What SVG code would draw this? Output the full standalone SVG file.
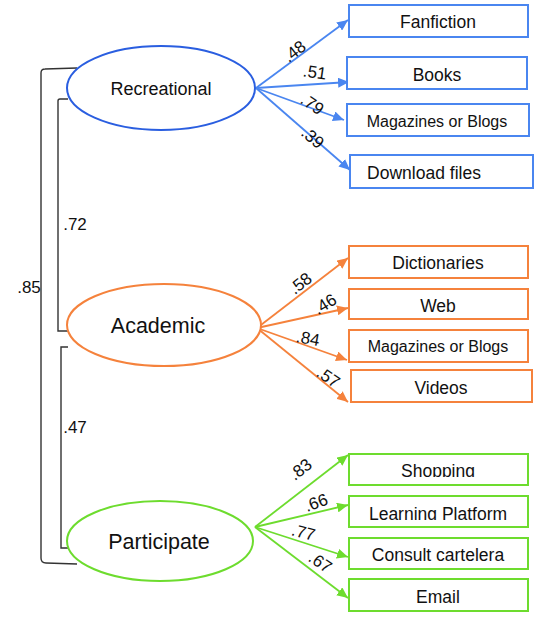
<svg xmlns="http://www.w3.org/2000/svg" width="541" height="623" viewBox="0 0 541 623">
<style>
text{font-family:"Liberation Sans",Arial,sans-serif;fill:#111}
.lv{font-size:18px;text-anchor:middle}
.lv2{font-size:21.5px;text-anchor:middle}
.bx{font-size:17.5px;text-anchor:middle}
.bxs{font-size:16px;text-anchor:middle}
.lab{font-size:17px;text-anchor:middle}
.br{fill:none;stroke:#333;stroke-width:1.4}
.b{stroke:#4a86f0;stroke-width:1.8;fill:none}
.o{stroke:#f5823c;stroke-width:1.8;fill:none}
.g{stroke:#6ddc2e;stroke-width:1.8;fill:none}
.rb{fill:#fff;stroke:#4a86f0;stroke-width:2}
.ro{fill:#fff;stroke:#f5823c;stroke-width:2}
.rg{fill:#fff;stroke:#6ddc2e;stroke-width:2}
</style>
<defs>
<marker id="ab" markerUnits="userSpaceOnUse" markerWidth="12" markerHeight="10" refX="11" refY="5" orient="auto"><path d="M0,0 L11,5 L0,10 z" fill="#4a86f0"/></marker>
<marker id="ao" markerUnits="userSpaceOnUse" markerWidth="12" markerHeight="10" refX="11" refY="5" orient="auto"><path d="M0,0 L11,5 L0,10 z" fill="#f5823c"/></marker>
<marker id="ag" markerUnits="userSpaceOnUse" markerWidth="12" markerHeight="10" refX="11" refY="5" orient="auto"><path d="M0,0 L11,5 L0,10 z" fill="#6ddc2e"/></marker>
<clipPath id="c1"><rect x="349" y="454" width="179" height="23"/></clipPath>
<clipPath id="c2"><rect x="349" y="496" width="179" height="24"/></clipPath>
</defs>
<rect width="541" height="623" fill="#fff"/>
<g id="connectors">
<path class="br" d="M77,68 L45,69 Q41,69 41,73 L41,558 Q41,563 46,563 L77,564"/>
<path class="br" d="M68,99 L60,99 Q58,99 58,101 L58,331 L68,331"/>
<path class="br" d="M68,347 L61,347 L61,548 L68,548"/>
<text class="lab" x="29" y="293">.85</text>
<text class="lab" x="75" y="230">.72</text>
<text class="lab" x="75" y="433">.47</text>
<line class="b" x1="256" y1="88" x2="348" y2="20" marker-end="url(#ab)"/>
<line class="b" x1="256" y1="88" x2="349" y2="82" marker-end="url(#ab)"/>
<line class="b" x1="256" y1="88" x2="344" y2="120" marker-end="url(#ab)"/>
<line class="b" x1="256" y1="88" x2="350" y2="170" marker-end="url(#ab)"/>
<text class="lab" transform="translate(298,56) rotate(-38)">.48</text>
<text class="lab" transform="translate(314,78) rotate(8)">.51</text>
<text class="lab" transform="translate(309,109) rotate(35)">.79</text>
<text class="lab" transform="translate(309,142) rotate(40)">.39</text>
<line class="o" x1="257" y1="328" x2="348" y2="258" marker-end="url(#ao)"/>
<line class="o" x1="257" y1="328" x2="348" y2="308" marker-end="url(#ao)"/>
<line class="o" x1="257" y1="328" x2="347" y2="360" marker-end="url(#ao)"/>
<line class="o" x1="257" y1="328" x2="348" y2="402" marker-end="url(#ao)"/>
<text class="lab" transform="translate(304,288) rotate(-38)">.58</text>
<text class="lab" transform="translate(328,309) rotate(-32)">.46</text>
<text class="lab" transform="translate(307,344) rotate(10)">.84</text>
<text class="lab" transform="translate(325,382) rotate(35)">.57</text>
<line class="g" x1="255" y1="527" x2="348" y2="455" marker-end="url(#ag)"/>
<line class="g" x1="255" y1="527" x2="348" y2="505" marker-end="url(#ag)"/>
<line class="g" x1="255" y1="527" x2="348" y2="557" marker-end="url(#ag)"/>
<line class="g" x1="255" y1="527" x2="348" y2="598" marker-end="url(#ag)"/>
<text class="lab" transform="translate(304,474) rotate(-38)">.83</text>
<text class="lab" transform="translate(318,508) rotate(-20)">.66</text>
<text class="lab" transform="translate(302,538) rotate(15)">.77</text>
<text class="lab" transform="translate(317,567) rotate(35)">.67</text>
</g>
<g id="recreational"><ellipse cx="161" cy="88" rx="94" ry="42" fill="#fff" stroke="#2a5ee0" stroke-width="2"/><text class="lv" x="161" y="95">Recreational</text></g>
<g id="academic"><ellipse cx="164" cy="325" rx="97" ry="41" fill="#fff" stroke="#f5823c" stroke-width="2"/><text class="lv2" x="158" y="333">Academic</text></g>
<g id="participate"><ellipse cx="160" cy="541" rx="93" ry="40" fill="#fff" stroke="#6ddc2e" stroke-width="2"/><text class="lv2" x="159" y="549">Participate</text></g>
<g id="fanfiction"><rect class="rb" x="349" y="5" width="179" height="32"/><text class="bx" x="438" y="28">Fanfiction</text></g>
<g id="books"><rect class="rb" x="347" y="57" width="180" height="32"/><text class="bx" x="437" y="81">Books</text></g>
<g id="magazines1"><rect class="rb" x="347" y="104" width="182" height="32"/><text class="bxs" x="437" y="127">Magazines or Blogs</text></g>
<g id="download"><rect class="rb" x="350" y="155" width="183" height="33"/><text class="bx" x="424" y="179">Download files</text></g>
<g id="dictionaries"><rect class="ro" x="349" y="246" width="179" height="32"/><text class="bx" x="438" y="269">Dictionaries</text></g>
<g id="web"><rect class="ro" x="349" y="289" width="179" height="30"/><text class="bx" x="438" y="312">Web</text></g>
<g id="magazines2"><rect class="ro" x="349" y="330" width="179" height="32"/><text class="bxs" x="438" y="352">Magazines or Blogs</text></g>
<g id="videos"><rect class="ro" x="351" y="370" width="181" height="32"/><text class="bx" x="441" y="394">Videos</text></g>
<g id="shopping"><rect class="rg" x="349" y="454" width="179" height="31"/><text class="bx" x="438" y="477" clip-path="url(#c1)">Shopping</text></g>
<g id="learning"><rect class="rg" x="349" y="496" width="179" height="31"/><text class="bx" x="438" y="520" clip-path="url(#c2)">Learning Platform</text></g>
<g id="consult"><rect class="rg" x="349" y="538" width="179" height="31"/><text class="bx" x="438" y="561">Consult cartelera</text></g>
<g id="email"><rect class="rg" x="349" y="579" width="179" height="32"/><text class="bx" x="438" y="603">Email</text></g>
</svg>
